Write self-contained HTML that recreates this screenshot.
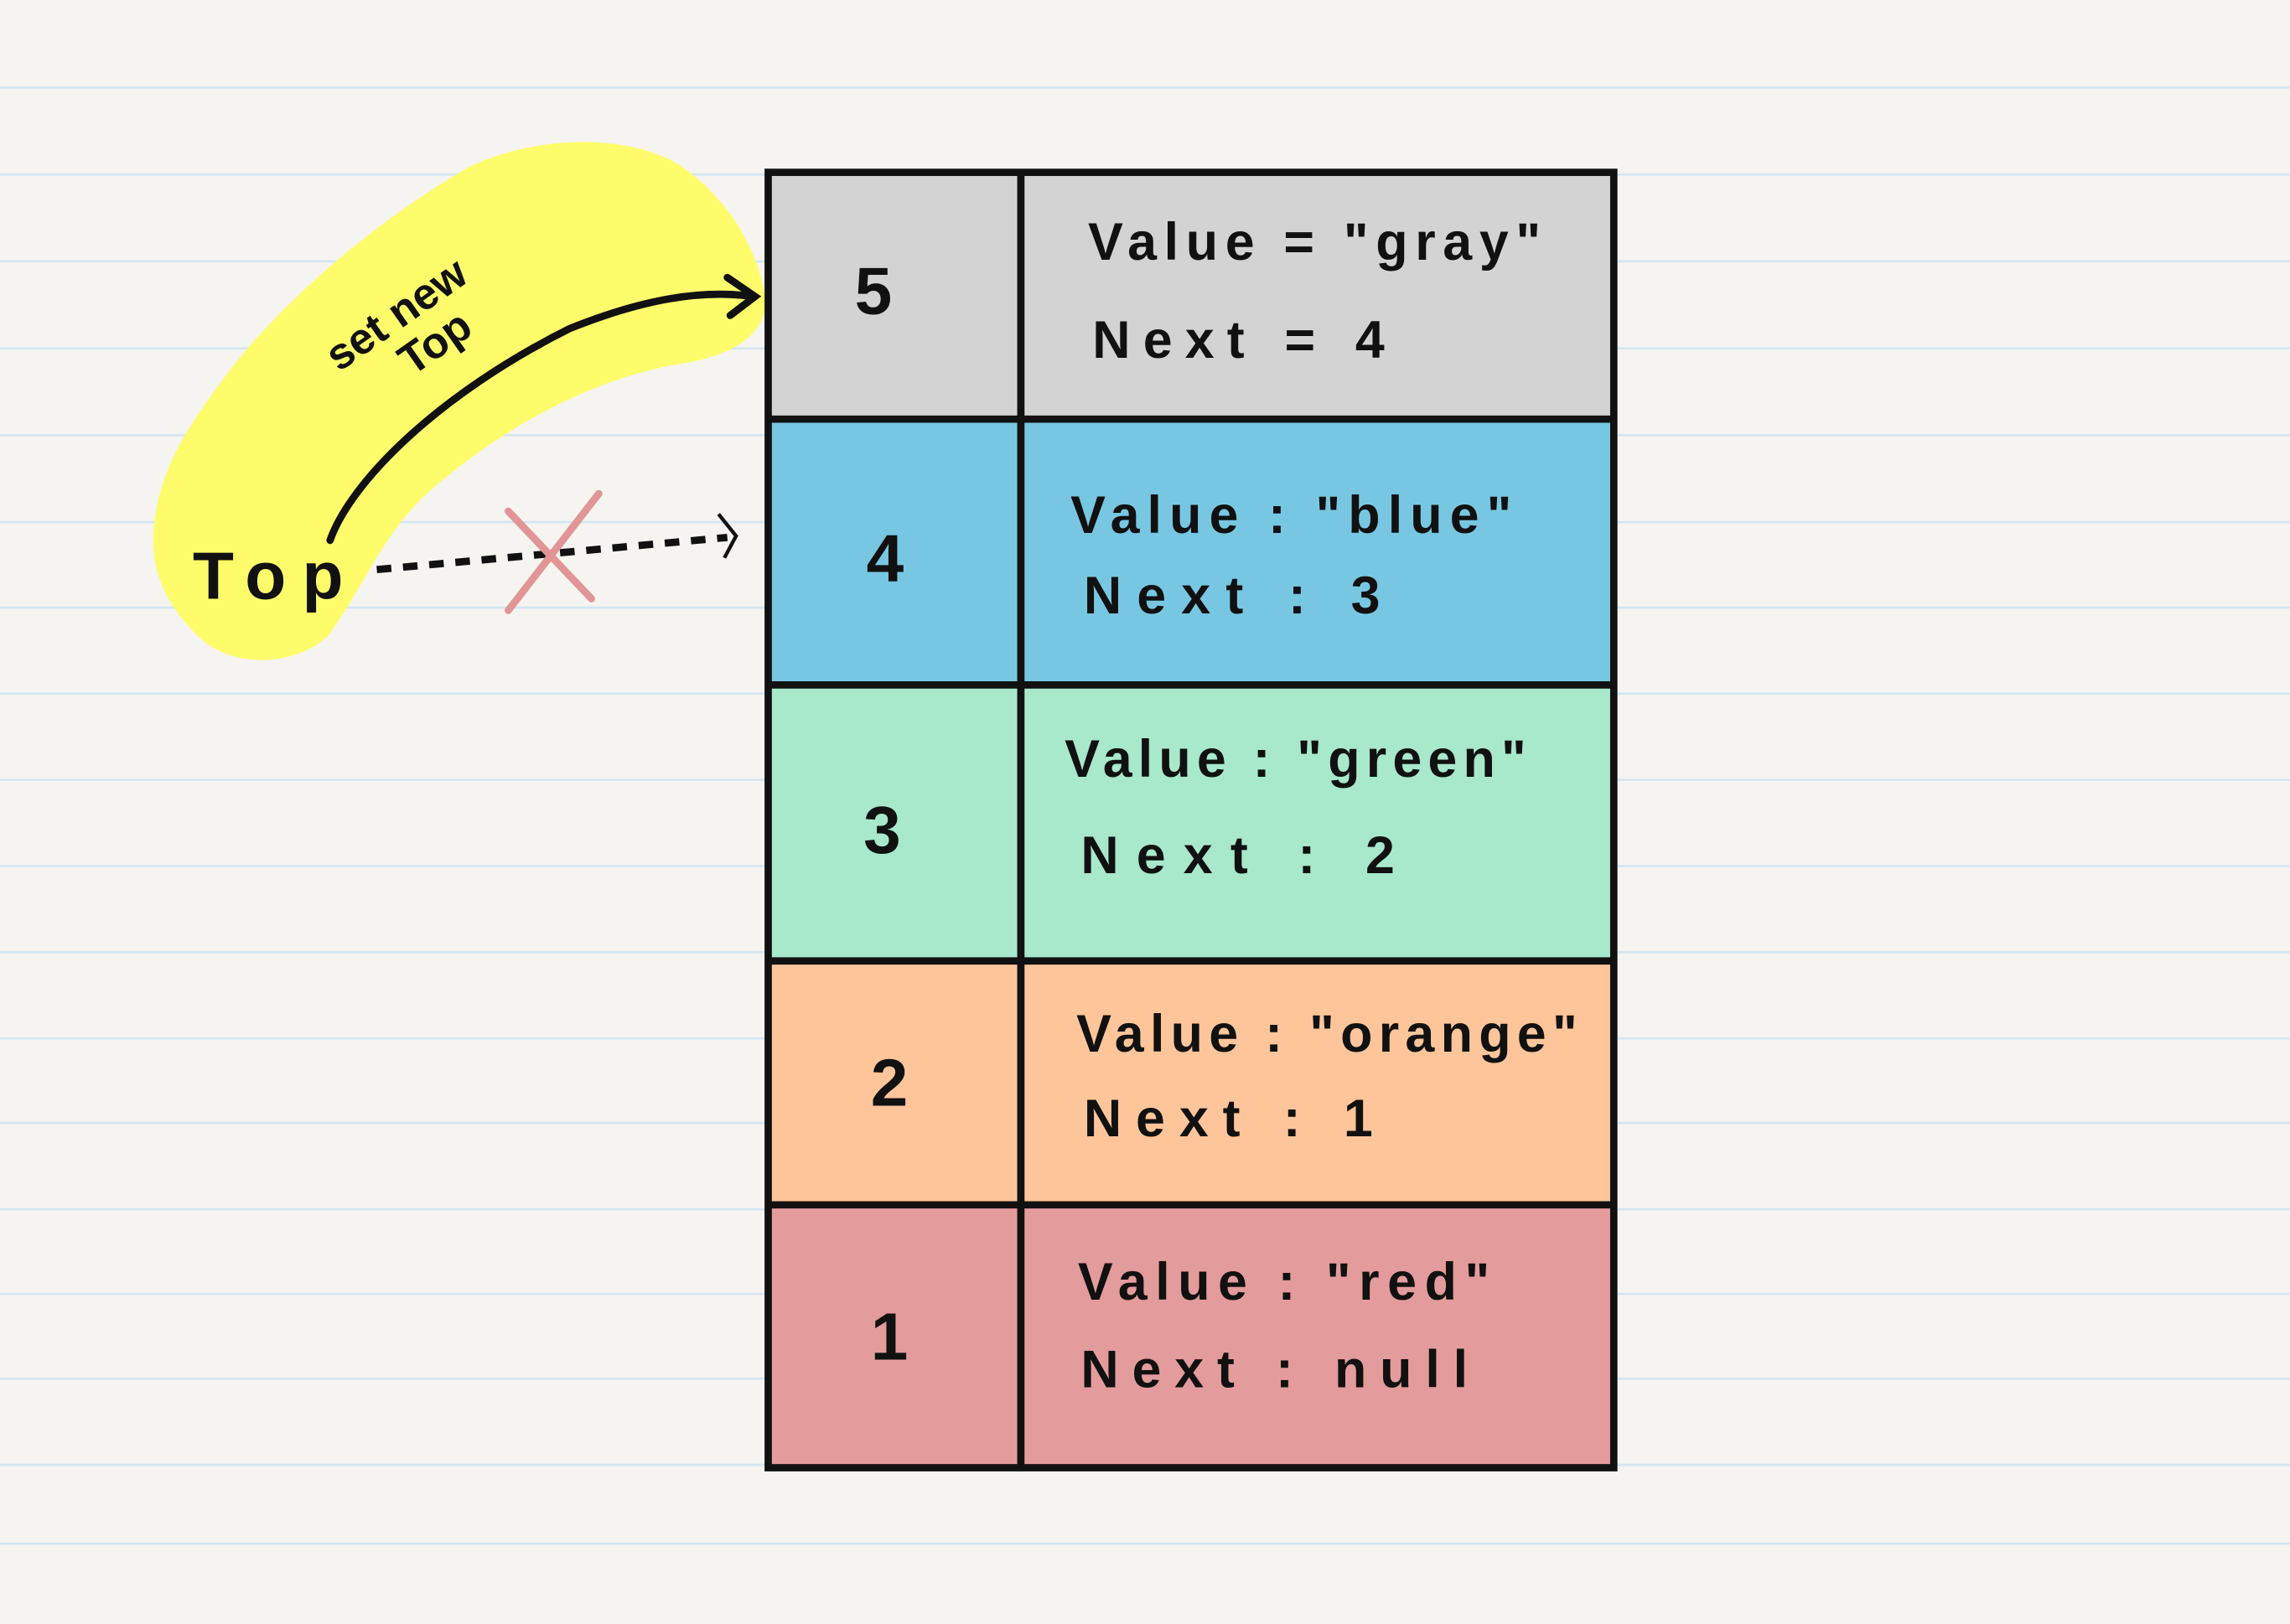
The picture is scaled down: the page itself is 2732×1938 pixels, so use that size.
<!DOCTYPE html>
<html><head><style>
html,body{margin:0;padding:0;background:#f5f4f0;}
svg{display:block;}
text{font-family:"Liberation Sans",sans-serif;font-weight:bold;fill:#111;}
</style></head><body>
<svg width="2732" height="1938" viewBox="0 0 1568 1112" preserveAspectRatio="none" xmlns="http://www.w3.org/2000/svg">
<rect width="1568" height="1112" fill="#f5f4f0"/>
<g stroke="#d3e6f2" stroke-width="1.5">
<line x1="0" y1="60" x2="1568" y2="60"/><line x1="0" y1="119.5" x2="1568" y2="119.5"/>
<line x1="0" y1="179" x2="1568" y2="179"/><line x1="0" y1="238.5" x2="1568" y2="238.5"/>
<line x1="0" y1="298" x2="1568" y2="298"/><line x1="0" y1="357.5" x2="1568" y2="357.5"/>
<line x1="0" y1="416" x2="1568" y2="416"/><line x1="0" y1="475" x2="1568" y2="475"/>
<line x1="0" y1="534" x2="1568" y2="534"/><line x1="0" y1="593" x2="1568" y2="593"/>
<line x1="0" y1="652" x2="1568" y2="652"/><line x1="0" y1="711" x2="1568" y2="711"/>
<line x1="0" y1="769" x2="1568" y2="769"/><line x1="0" y1="828" x2="1568" y2="828"/>
<line x1="0" y1="886" x2="1568" y2="886"/><line x1="0" y1="944" x2="1568" y2="944"/>
<line x1="0" y1="1003" x2="1568" y2="1003"/><line x1="0" y1="1057" x2="1568" y2="1057"/>
</g>
<path d="M105,365 C108,320 130,290 160,250 C200,200 260,150 320,115 C360,95 420,90 460,110 C495,130 520,170 524,205 C525,230 500,245 460,250 C400,262 340,295 290,340 C260,370 250,400 225,435 C205,455 160,460 135,435 C112,412 104,390 105,365 Z" fill="#fffc6b"/>
<rect x="526" y="118" width="579" height="169" fill="#d3d3d3"/>
<rect x="526" y="287" width="579" height="182" fill="#78c7e2"/>
<rect x="526" y="469" width="579" height="189" fill="#a8e8cb"/>
<rect x="526" y="658" width="579" height="167" fill="#fec59a"/>
<rect x="526" y="825" width="579" height="180" fill="#e49b9c"/>
<g stroke="#111" stroke-width="5" fill="none">
<rect x="526" y="118" width="579" height="887"/>
<line x1="699" y1="118" x2="699" y2="1005"/>
<line x1="526" y1="287" x2="1105" y2="287"/>
<line x1="526" y1="469" x2="1105" y2="469"/>
<line x1="526" y1="658" x2="1105" y2="658"/>
<line x1="526" y1="825" x2="1105" y2="825"/>
</g>
<g font-size="46" text-anchor="middle">
<text x="598" y="215">5</text><text x="606" y="398">4</text><text x="604" y="584">3</text><text x="609" y="757">2</text><text x="609" y="931">1</text>
</g>
<g font-size="36" lengthAdjust="spacing">
<text x="745" y="178" textLength="310" lengthAdjust="spacing">Value = "gray"</text>
<text x="748" y="245" textLength="200" lengthAdjust="spacing">Next = 4</text>
<text x="733" y="365" textLength="302" lengthAdjust="spacing">Value : "blue"</text>
<text x="742" y="420" textLength="203" lengthAdjust="spacing">Next : 3</text>
<text x="729" y="532" textLength="316" lengthAdjust="spacing">Value : "green"</text>
<text x="740" y="598" textLength="215" lengthAdjust="spacing">Next : 2</text>
<text x="737" y="720" textLength="343" lengthAdjust="spacing">Value : "orange"</text>
<text x="742" y="778" textLength="198" lengthAdjust="spacing">Next : 1</text>
<text x="738" y="890" textLength="282" lengthAdjust="spacing">Value : "red"</text>
<text x="740" y="950" textLength="265" lengthAdjust="spacing">Next : null</text>
</g>
<text x="132" y="410" font-size="46" font-weight="normal" textLength="103" lengthAdjust="spacing">Top</text>
<text transform="translate(232,255) rotate(-35)" font-size="30" font-weight="normal">set new</text>
<text transform="translate(282,258) rotate(-35)" font-size="30" font-weight="normal">Top</text>
<path d="M226,370 C240,330 300,270 390,225 C440,205 480,198 515,203" stroke="#111" stroke-width="5" fill="none" stroke-linecap="round"/>
<path d="M498,190 L517,203 L500,216" stroke="#111" stroke-width="5" fill="none" stroke-linecap="round"/>
<path d="M258,390 L498,368" stroke="#111" stroke-width="5" stroke-dasharray="10,8" fill="none"/>
<path d="M492,352 L504,367 L496,382" stroke="#111" stroke-width="2.5" fill="none"/>
<g stroke="#e19595" stroke-width="5" stroke-linecap="round">
<line x1="348" y1="350" x2="405" y2="410"/><line x1="410" y1="338" x2="348" y2="418"/>
</g>
</svg>
</body></html>
